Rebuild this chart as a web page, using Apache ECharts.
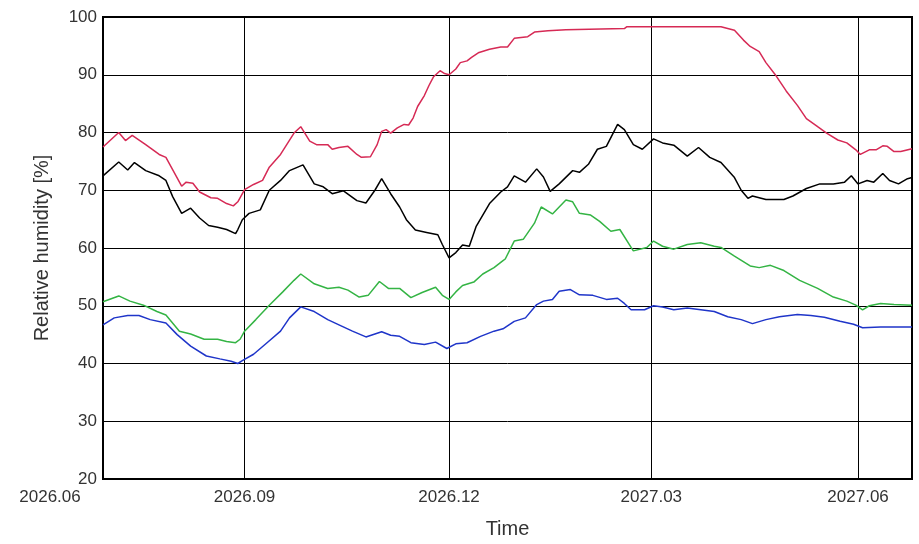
<!DOCTYPE html>
<html>
<head>
<meta charset="utf-8">
<script src="https://cdn.jsdelivr.net/npm/echarts@6/dist/echarts.min.js"></script>
<style>html,body{margin:0;padding:0;background:#fff}#c{width:919px;height:544px}</style>
</head>
<body>
<div id="c"></div>
<script>
// ---- axis definition ----
const startDateUTC = Date.UTC(2026, 5, 30);   // first day shown on the time axis
const dayCount = 361;                          // through 2027-06-25
const tickDates = ['2026-09-01', '2026-12-01', '2027-03-01', '2027-06-01'];
const tickLabels = ['2026.09', '2026.12', '2027.03', '2027.06'];
const firstTickLabel = '2026.06';
const yMin = 20, yMax = 100, yStep = 10;

// ---- series (day index from start, relative humidity %) ----
const redDays = [0,7,10,13,19,25,28,35,37,40,43,48,51,55,58,60,63,67,71,74,79,85,88,92,95,100,102,105,109,113,115,119,122,124,126,128,131,134,136,138,140,143,145,147,150,152,154,157,159,162,164,167,172,177,180,183,189,192,198,206,232,233,275,278,281,285,288,292,295,299,304,309,313,318,322,327,331,335,337,341,344,347,349,352,355,360];
const redValues = [77.5,80.0,78.6,79.5,77.9,76.2,75.7,70.7,71.4,71.2,69.7,68.7,68.6,67.7,67.3,68.0,70.1,71.0,71.7,74.0,76.2,79.9,81.0,78.5,77.9,77.9,77.1,77.4,77.6,76.2,75.7,75.8,77.9,80.2,80.5,79.9,80.8,81.4,81.3,82.5,84.5,86.4,88.1,89.6,90.7,90.2,90.0,91.0,92.1,92.4,93.0,93.8,94.4,94.8,94.8,96.3,96.6,97.4,97.6,97.8,98.0,98.3,98.3,98.0,97.7,96.0,94.9,94.0,92.1,90.1,87.2,84.7,82.4,81.0,79.9,78.7,78.2,77.0,76.2,77.0,77.0,77.7,77.6,76.7,76.7,77.2];

const blackDays = [0,7,11,14,19,25,28,31,35,39,43,47,51,55,59,60,62,65,70,74,79,83,89,94,98,102,107,113,117,121,124,128,132,135,139,144,149,151,154,157,160,163,166,172,177,180,183,188,193,196,199,203,209,212,216,220,224,229,232,236,240,245,249,254,260,265,270,275,281,284,287,289,295,303,307,313,319,325,330,333,336,340,343,347,350,354,358,360];
const blackValues = [72.5,74.9,73.5,74.8,73.4,72.5,71.7,68.9,66.0,66.9,65.2,63.9,63.6,63.2,62.5,63.2,64.9,66.0,66.6,70.0,71.7,73.4,74.4,71.1,70.6,69.4,69.9,68.2,67.8,70.0,72.0,69.4,67.1,64.9,63.1,62.7,62.3,60.6,58.3,59.2,60.5,60.3,63.7,67.7,69.7,70.6,72.5,71.4,73.7,72.3,69.8,71.1,73.4,73.1,74.5,77.1,77.6,81.4,80.5,77.9,77.1,78.9,78.2,77.8,75.9,77.4,75.7,74.8,72.2,70.0,68.6,69.0,68.4,68.4,69.0,70.3,71.1,71.1,71.4,72.5,71.1,71.7,71.4,72.9,71.7,71.1,72.0,72.2];

const greenDays = [0,7,12,18,24,28,34,39,45,51,55,59,61,63,68,74,80,85,88,94,100,105,109,114,118,123,127,132,137,142,148,151,154,157,160,165,169,174,178,179,183,187,192,195,200,203,206,209,212,217,221,226,230,235,236,242,245,249,254,260,266,272,275,281,288,292,297,303,310,318,325,331,335,338,341,346,352,360];
const greenValues = [50.7,51.7,50.8,50.1,49.0,48.4,45.6,45.1,44.2,44.2,43.8,43.6,44.2,45.6,47.6,50.1,52.4,54.4,55.5,53.8,53.0,53.2,52.7,51.5,51.8,54.2,53.0,53.0,51.4,52.3,53.2,51.8,51.1,52.4,53.5,54.1,55.5,56.6,57.8,58.1,61.2,61.5,64.3,67.1,65.9,67.1,68.3,68.0,66.0,65.7,64.6,62.9,63.2,60.1,59.5,60.1,61.2,60.3,59.8,60.6,60.9,60.3,60.1,58.6,56.9,56.6,57.0,56.1,54.4,53.0,51.5,50.8,50.1,49.3,50.0,50.4,50.2,50.1];

const blueDays = [0,5,11,16,21,28,33,39,46,52,57,60,62,67,73,79,83,88,94,100,105,111,117,124,128,132,137,143,148,153,157,162,168,174,178,183,188,193,196,200,203,208,212,218,224,229,232,235,241,245,249,254,260,266,272,278,284,289,295,301,309,315,321,328,334,338,346,360];
const blueValues = [46.7,47.9,48.3,48.3,47.6,47.0,45.0,43.0,41.3,40.8,40.4,40.0,40.5,41.6,43.6,45.6,47.9,49.8,49.0,47.6,46.7,45.6,44.6,45.5,44.9,44.7,43.6,43.3,43.7,42.6,43.4,43.6,44.7,45.6,46.0,47.3,47.9,50.2,50.8,51.1,52.5,52.8,51.9,51.8,51.1,51.3,50.4,49.3,49.3,50.0,49.8,49.3,49.6,49.3,49.0,48.1,47.6,46.9,47.6,48.1,48.5,48.3,48.0,47.3,46.8,46.2,46.3,46.3];

// ---- build categories (one per day) ----
const categories = [];
for (let i = 0; i < dayCount; i++) {
  categories.push(new Date(startDateUTC + i * 86400000).toISOString().slice(0, 10));
}
function pairs(days, vals) { return days.map((d, i) => [d, vals[i]]); }

const FONT = '"Liberation Sans", Arial, sans-serif';
const TXT = '#333333';

const chart = echarts.init(document.getElementById('c'), null, { renderer: 'canvas' });

function lineSeries(name, color, days, vals) {
  return {
    name, type: 'line', data: pairs(days, vals), showSymbol: false, symbol: 'none',
    lineStyle: { color, width: 1.5 }, itemStyle: { color }, animation: false, silent: true
  };
}

chart.setOption({
  animation: false,
  backgroundColor: '#fff',
  grid: { left: 103, right: 7, top: 17, bottom: 57, show: true, borderColor: '#000', borderWidth: 2, backgroundColor: 'transparent' },
  xAxis: {
    type: 'category', data: categories, boundaryGap: false,
    name: 'Time', nameLocation: 'middle', nameGap: 40,
    nameTextStyle: { fontFamily: FONT, fontSize: 20, color: TXT },
    axisLine: { show: true, lineStyle: { color: '#000', width: 2 } },
    axisTick: { show: false },
    axisLabel: {
      interval: (i, v) => i === 0 || tickDates.indexOf(v) >= 0,
      formatter: (v, i) => i === 0 ? '{first|' + firstTickLabel + '}' : tickLabels[tickDates.indexOf(v)],
      fontFamily: FONT, fontSize: 17, color: TXT, margin: 10,
      rich: { first: { padding: [0, 106, 0, 0], fontFamily: FONT, fontSize: 17, color: TXT } }
    },
    splitLine: { show: true, interval: (i, v) => tickDates.indexOf(v) >= 0, lineStyle: { color: '#000', width: 1 } }
  },
  yAxis: {
    type: 'value', min: yMin, max: yMax, interval: yStep,
    name: 'Relative humidity [%]', nameLocation: 'middle', nameGap: 51,
    nameTextStyle: { fontFamily: FONT, fontSize: 20, color: TXT },
    axisLine: { show: true, lineStyle: { color: '#000', width: 2 } },
    axisTick: { show: false },
    axisLabel: { fontFamily: FONT, fontSize: 17, color: TXT, margin: 6 },
    splitLine: { show: true, lineStyle: { color: '#000', width: 1 } }
  },
  series: [
    lineSeries('Red', '#d62a55', redDays, redValues),
    lineSeries('Black', '#000000', blackDays, blackValues),
    lineSeries('Green', '#34b444', greenDays, greenValues),
    lineSeries('Blue', '#1f35c9', blueDays, blueValues)
  ]
});
</script>
</body>
</html>
